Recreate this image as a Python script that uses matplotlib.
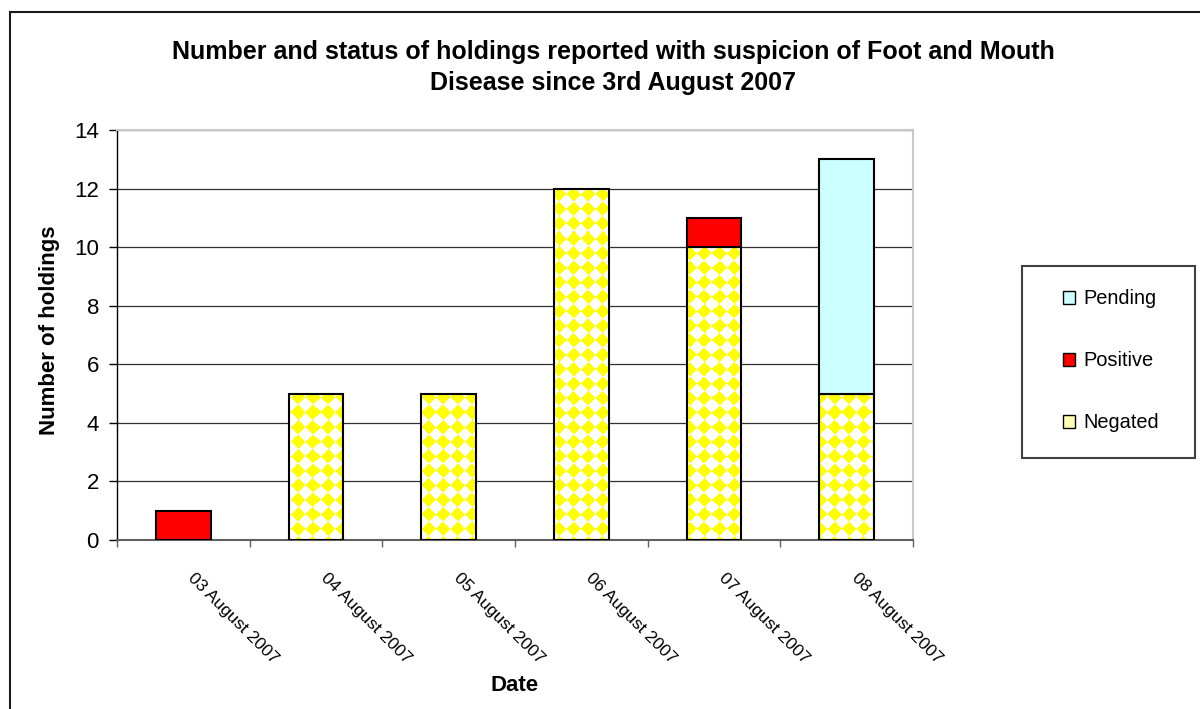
import numpy as np
import matplotlib.pyplot as plt
from matplotlib.patches import Patch, Rectangle
from matplotlib.transforms import ScaledTranslation

plt.rcParams['font.family'] = ['Liberation Sans', 'DejaVu Sans']

# holdings reported per day, split by status
dates = ["03 August 2007", "04 August 2007", "05 August 2007",
         "06 August 2007", "07 August 2007", "08 August 2007"]
negated = [0, 5, 5, 12, 10, 5]
positive = [1, 0, 0, 0, 1, 0]
pending = [0, 0, 0, 0, 0, 8]
yticks = [0, 2, 4, 6, 8, 10, 12, 14]

title = ("Number and status of holdings reported with suspicion of Foot and Mouth\n"
         "Disease since 3rd August 2007")


def diamond_tile(w, h, period=14.5, frac=0.49):
    # yellow diamonds on white, one image pixel per screen pixel
    yy, xx = np.mgrid[0:h, 0:w] + 0.5
    dx = np.abs((xx % period) - period / 2)
    dy = np.abs((yy % period) - period / 2)
    img = np.ones((h, w, 3))
    img[(dx + dy) < frac * period] = [1, 1, 0]
    return img


fig = plt.figure(figsize=(12, 7.09), dpi=100)
ax = fig.add_axes([117 / 1200, 1 - 540 / 709, 796 / 1200, 410 / 709])

x = np.arange(len(dates))
width = 0.41
xlim = (-0.5, len(dates) - 0.5)
ylim = (yticks[0], yticks[-1])

neg = np.array(negated)
pos = np.array(positive)
pen = np.array(pending)

neg_bars = ax.bar(x, neg, width, facecolor='none', edgecolor='black', lw=1.5, zorder=3)
pos_bars = ax.bar(x, pos, width, bottom=neg, color='#FF0000', edgecolor='black', lw=1.5, zorder=3)
pen_bars = ax.bar(x, pen, width, bottom=neg + pos, color='#CCFFFF', edgecolor='black', lw=1.5, zorder=3)

tile = diamond_tile(int(round(ax.bbox.width)), int(round(ax.bbox.height)))
for bar in neg_bars:
    if bar.get_height() == 0:
        bar.set_visible(False)
        continue
    im = ax.imshow(tile, extent=(xlim[0], xlim[1], ylim[0], ylim[1]), aspect='auto',
                   interpolation='nearest', origin='upper', zorder=2.5)
    im.set_clip_path(bar)
for bar in list(pos_bars) + list(pen_bars):
    if bar.get_height() == 0:
        bar.set_visible(False)

ax.set_xlim(*xlim)
ax.set_ylim(*ylim)
ax.set_yticks(yticks)
ax.yaxis.grid(True, color='#303030', lw=0.9)
ax.set_axisbelow(True)

ax.set_xticks(x)
ax.set_xticklabels(dates, rotation=-45, ha='left', va='top', rotation_mode='anchor', fontsize=12.5)
ax.set_xticks(np.arange(xlim[0], xlim[1] + 0.01, 1), minor=True)
ax.tick_params(axis='x', which='major', length=0, pad=22)
ax.tick_params(axis='x', which='minor', length=5, width=1, color='#606060')
for lab in ax.get_xticklabels():
    lab.set_transform(lab.get_transform() + ScaledTranslation(9 / 72, 0, fig.dpi_scale_trans))
ax.tick_params(axis='y', length=6, width=1, pad=7, labelsize=16)

ax.spines['left'].set_color('black')
ax.spines['left'].set_linewidth(1)
ax.spines['bottom'].set_color('#606060')
ax.spines['bottom'].set_linewidth(1.5)
for s in ['top', 'right']:
    ax.spines[s].set_color('#c8c8c8')
    ax.spines[s].set_linewidth(1.5)

ax.set_xlabel("Date", fontsize=16, fontweight='bold', va='top')
ax.xaxis.set_label_coords(0.5, -0.33)
fig.text(50 / 1200, 1 - 330 / 709, "Number of holdings", rotation=90, ha='center', va='center',
         fontsize=16, fontweight='bold')

fig.text(613 / 1200, 1 - 40 / 709, title, ha='center', va='top', fontsize=18,
         fontweight='bold', linespacing=1.36)

# legend frame and entries
fig.patches.append(Rectangle((1022 / 1200, 1 - 458 / 709), 173 / 1200, 192 / 709,
                             transform=fig.transFigure, fill=False, edgecolor='#404040', lw=1.5))
handles = [Patch(facecolor='#CCFFFF', edgecolor='black', label='Pending'),
           Patch(facecolor='#FF0000', edgecolor='black', label='Positive'),
           Patch(facecolor='#FFFFB0', edgecolor='black', label='Negated')]
fig.legend(handles=handles, loc='center', bbox_to_anchor=(1111 / 1200, 1 - 361 / 709),
           frameon=False, fontsize=14.4, handlelength=0.6, handleheight=0.6,
           handletextpad=0.4, labelspacing=2.15)

# outer chart border
fig.patches.append(Rectangle((10 / 1200, -0.1), 1.2, 1.1 - 12 / 709,
                             transform=fig.transFigure, fill=False, edgecolor='#1a1a1a', lw=1.5))

fig.savefig('out.png', dpi=100)
